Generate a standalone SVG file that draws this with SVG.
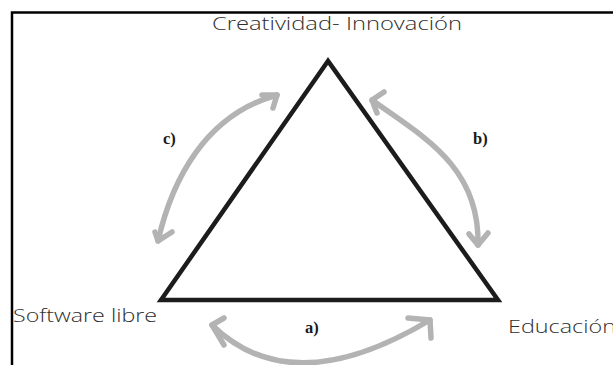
<svg xmlns="http://www.w3.org/2000/svg" width="613" height="365" viewBox="0 0 613 365">
<style>
.hand{font-family:"Open Sans","DejaVu Sans",sans-serif;font-weight:300;fill:#2e2e2e}
.lbl{font-family:"Liberation Serif","Times New Roman",serif;font-weight:bold;font-size:16.5px;fill:#1a1a1a}
.arr{fill:none;stroke:#b3b3b3;stroke-width:5.5;stroke-linecap:round;stroke-linejoin:round}
</style>
<rect width="613" height="365" fill="#ffffff"/>
<path d="M12,366 V12.5 H614" fill="none" stroke="#000" stroke-width="2.5"/>
<g id="triangle">
<polygon points="328,61 161,300 498,300" fill="none" stroke="#1c1c1c" stroke-width="4.5" stroke-linejoin="miter"/>
</g>
<g id="node-creatividad">
<text class="hand" x="212" y="30" font-size="18" textLength="250" lengthAdjust="spacingAndGlyphs">Creatividad- Innovación</text>
</g>
<g id="node-software">
<text class="hand" x="13" y="322" font-size="19" textLength="144" lengthAdjust="spacingAndGlyphs">Software libre</text>
</g>
<g id="node-educacion">
<text class="hand" x="508" y="333" font-size="19" textLength="108" lengthAdjust="spacingAndGlyphs">Educación</text>
</g>
<g id="connectors">
<path class="arr" d="M158,241 C172,180 205,115 277,95"/>
<path class="arr" d="M262,95 L277,95 L273,108"/>
<path class="arr" d="M155,232 L158,241 L172,232"/>
<path class="arr" d="M372,100 C420,135 480,165 478,245"/>
<path class="arr" d="M384,92 L372,100 L377,113"/>
<path class="arr" d="M469,234 L478,245 L488,233"/>
<path class="arr" d="M212,325 C260,372 330,380 430,320"/>
<path class="arr" d="M224,318 L212,325 L224,345"/>
<path class="arr" d="M408,318 L430,320 L431,338"/>
</g>
<g id="labels">
<text class="lbl" x="305" y="333">a)</text>
<text class="lbl" x="473" y="144">b)</text>
<text class="lbl" x="163" y="144">c)</text>
</g>
</svg>
